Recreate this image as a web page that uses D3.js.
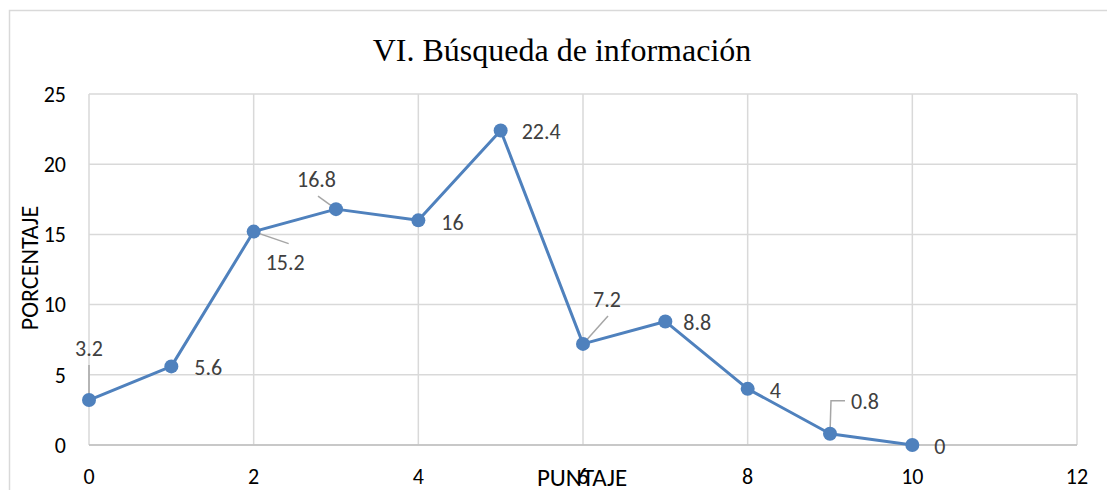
<!DOCTYPE html>
<html>
<head>
<meta charset="utf-8">
<script src="https://cdn.jsdelivr.net/npm/d3@7"></script>
<style>
  body { margin: 0; background: #fff; }
  svg { display: block; }
</style>
</head>
<body>
<svg id="chart"></svg>
<script>
// data
const puntaje = [0, 1, 2, 3, 4, 5, 6, 7, 8, 9, 10];
const porcentaje = [3.2, 5.6, 15.2, 16.8, 16, 22.4, 7.2, 8.8, 4, 0.8, 0];
const xTicks = [0, 2, 4, 6, 8, 10, 12];
const yTicks = [0, 5, 10, 15, 20, 25];

// label placement (dx, dy from point) and optional leader line
const labelPos = [
  {dx: 0, dy: -52, anchor: "middle", leader: [[0, -3], [0, -35]]},
  {dx: 23, dy: 1, anchor: "start"},
  {dx: 12, dy: 31, anchor: "start", leader: [[0, 0], [35, 12]]},
  {dx: -39, dy: -30, anchor: "start", leader: [[0, 0], [-18, -13]]},
  {dx: 23, dy: 2, anchor: "start"},
  {dx: 21, dy: 1, anchor: "start"},
  {dx: 10, dy: -45, anchor: "start", leader: [[0, 0], [25, -28]]},
  {dx: 18, dy: 1, anchor: "start"},
  {dx: 22, dy: 1, anchor: "start"},
  {dx: 21, dy: -32, anchor: "start", leader: [[0, 0], [1, -33], [15, -33]]},
  {dx: 22, dy: 1, anchor: "start"}
];

const width = 1107, height = 490;
const margin = {left: 89, right: 30, top: 94, bottom: 45};

const svg = d3.select("#chart")
  .attr("width", width)
  .attr("height", height)
  .attr("font-family", "Carlito, 'Open Sans', 'Liberation Sans', sans-serif");

// outer chart frame
svg.append("path")
  .attr("d", `M9.5,${height} V10.5 H${width}`)
  .attr("fill", "none")
  .attr("stroke", "#d9d9d9")
  .attr("stroke-width", 1.5);

const x = d3.scaleLinear().domain([0, 12]).range([margin.left, width - margin.right]);
const y = d3.scaleLinear().domain([0, 25]).range([height - margin.bottom, margin.top]);

// gridlines
svg.append("g").selectAll("line")
  .data(yTicks)
  .join("line")
  .attr("x1", x(0)).attr("x2", x(12))
  .attr("y1", d => y(d)).attr("y2", d => y(d))
  .attr("stroke", "#d9d9d9")
  .attr("stroke-width", 1.5);

svg.append("g").selectAll("line")
  .data(xTicks)
  .join("line")
  .attr("x1", d => x(d)).attr("x2", d => x(d))
  .attr("y1", y(0)).attr("y2", y(25))
  .attr("stroke", "#d9d9d9")
  .attr("stroke-width", 1.5);

// bottom axis line
svg.append("line")
  .attr("x1", x(0)).attr("x2", x(12))
  .attr("y1", y(0)).attr("y2", y(0))
  .attr("stroke", "#bfbfbf")
  .attr("stroke-width", 1.5);

// tick labels
svg.append("g").selectAll("text")
  .data(yTicks)
  .join("text")
  .attr("x", 66)
  .attr("y", d => y(d))
  .attr("dy", "0.35em")
  .attr("text-anchor", "end")
  .attr("font-size", 22)
  .attr("fill", "#000")
  .text(d => d);

svg.append("g").selectAll("text")
  .data(xTicks)
  .join("text")
  .attr("x", d => x(d))
  .attr("y", 476)
  .attr("dy", "0.35em")
  .attr("text-anchor", "middle")
  .attr("font-size", 22)
  .attr("fill", "#000")
  .text(d => d);

// title
svg.append("text")
  .attr("x", 562)
  .attr("y", 61)
  .attr("text-anchor", "middle")
  .attr("font-family", "'Liberation Serif', 'Times New Roman', serif")
  .attr("font-size", 32)
  .attr("fill", "#000")
  .text("VI. Búsqueda de información");

// axis titles
svg.append("text")
  .attr("transform", "translate(30,268) rotate(-90)")
  .attr("dy", "0.35em")
  .attr("text-anchor", "middle")
  .attr("font-size", 24)
  .attr("fill", "#000")
  .text("PORCENTAJE");

svg.append("text")
  .attr("x", 582)
  .attr("y", 486)
  .attr("text-anchor", "middle")
  .attr("font-size", 25)
  .attr("fill", "#000")
  .text("PUNTAJE");

const pts = puntaje.map((p, i) => ({x: p, y: porcentaje[i], pos: labelPos[i]}));

// series line
const line = d3.line().x(d => x(d.x)).y(d => y(d.y));
svg.append("path")
  .datum(pts)
  .attr("d", line)
  .attr("fill", "none")
  .attr("stroke", "#4f81bd")
  .attr("stroke-width", 3)
  .attr("stroke-linejoin", "round");

// leader lines
svg.append("g").selectAll("path")
  .data(pts.filter(d => d.pos.leader))
  .join("path")
  .attr("d", d => d3.line()(d.pos.leader.map(p => [x(d.x) + p[0], y(d.y) + p[1]])))
  .attr("fill", "none")
  .attr("stroke", "#a6a6a6")
  .attr("stroke-width", 1.5);

// markers
svg.append("g").selectAll("circle")
  .data(pts)
  .join("circle")
  .attr("cx", d => x(d.x))
  .attr("cy", d => y(d.y))
  .attr("r", 7)
  .attr("fill", "#4f81bd");

// data labels
svg.append("g").selectAll("text")
  .data(pts)
  .join("text")
  .attr("x", d => x(d.x) + d.pos.dx)
  .attr("y", d => y(d.y) + d.pos.dy)
  .attr("dy", "0.35em")
  .attr("text-anchor", d => d.pos.anchor)
  .attr("font-size", 22)
  .attr("fill", "#404040")
  .text(d => d.y);
</script>
</body>
</html>
